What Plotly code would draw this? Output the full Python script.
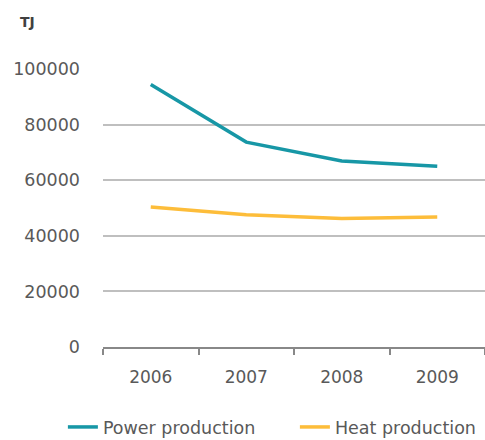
import plotly.graph_objects as go

years = ["2006", "2007", "2008", "2009"]
power = [94400, 73700, 66900, 65000]
heat = [50400, 47600, 46200, 46800]
y_ticks = [0, 20000, 40000, 60000, 80000, 100000]

TEAL = "#1797a6"
ORANGE = "#fdbd3a"
FONT = "DejaVu Sans"

fig = go.Figure()
fig.add_trace(go.Scatter(x=years, y=power, mode="lines", name="Power production",
                         line=dict(color=TEAL, width=3.5)))
fig.add_trace(go.Scatter(x=years, y=heat, mode="lines", name="Heat production",
                         line=dict(color=ORANGE, width=3.5)))

fig.update_layout(
    width=485, height=440,
    margin=dict(l=103, r=0, t=69, b=93, autoexpand=False),
    paper_bgcolor="white", plot_bgcolor="white",
    font=dict(family=FONT, size=17, color="#595959"),
    showlegend=True,
    legend=dict(orientation="h", x=-0.105, y=-0.288, xanchor="left", yanchor="middle",
                font=dict(size=17.5, color="#595959"),
                entrywidth=187, entrywidthmode="pixels",
                itemwidth=30, tracegroupgap=0, borderwidth=0),
    xaxis=dict(type="category", range=[-0.5, 3.5], showline=True, linecolor="#888888",
               linewidth=1.5, ticks="outside", tickson="boundaries", ticklen=6,
               tickcolor="#888888", tickwidth=1.5, showgrid=False,
               ticklabelstandoff=14,
               tickfont=dict(size=17, color="#595959")),
    yaxis=dict(range=[0, 100000], tickvals=y_ticks, ticktext=[str(v) for v in y_ticks],
               showgrid=True, gridcolor="#bfbfbf", gridwidth=1.5, zeroline=False,
               showline=False, ticks="", ticklabelstandoff=22,
               tickfont=dict(size=17.5, color="#595959")),
    annotations=[dict(text="<b>TJ</b>", xref="paper", yref="paper", x=-0.2225, y=1.168,
                      xanchor="left", yanchor="middle", showarrow=False,
                      font=dict(size=14, color="#404040"))],
)

fig.write_html("out.html", config={"displayModeBar": False},
               post_script="document.body.style.margin='0';document.body.style.overflow='hidden';")
